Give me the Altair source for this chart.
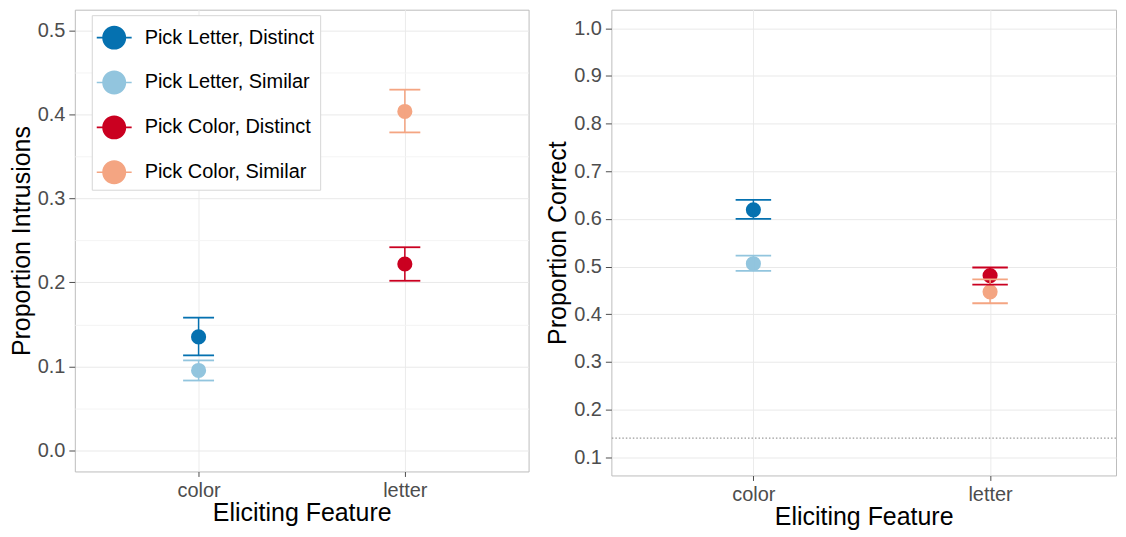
import altair as alt
import pandas as pd

FONT = "Liberation Sans"

categories = ["color", "letter"]
series = ["Pick Letter, Distinct", "Pick Letter, Similar", "Pick Color, Distinct", "Pick Color, Similar"]
series_feature = ["color", "color", "letter", "letter"]
palette = ["#0571b0", "#92c5de", "#ca0020", "#f4a582"]

intr_mean = [0.135, 0.095, 0.222, 0.404]
intr_lo = [0.113, 0.083, 0.202, 0.379]
intr_hi = [0.158, 0.107, 0.242, 0.430]

corr_mean = [0.619, 0.506, 0.481, 0.447]
corr_lo = [0.600, 0.491, 0.462, 0.423]
corr_hi = [0.640, 0.523, 0.498, 0.473]

chance_level = [0.14]

intr_ticks = [round(i * 0.05, 2) for i in range(0, 11)]
corr_ticks = [round(0.1 + i * 0.05, 2) for i in range(0, 19)]


def frame(mean, lo, hi):
    return pd.DataFrame({"series": series, "feature": series_feature,
                         "mean": mean, "lo": lo, "hi": hi})


MAJOR = "abs(datum.value*10 - round(datum.value*10)) < 0.01"
LEGEND_PATH = ("M-0.686,0A0.686,0.686,0,1,1,0.686,0A0.686,0.686,0,1,1,-0.686,0Z"
               "M-1,-0.045L-0.6,-0.045L-0.6,0.045L-1,0.045Z"
               "M0.6,-0.045L1,-0.045L1,0.045L0.6,0.045Z")

color_scale = alt.Scale(domain=series, range=palette)


def panel(df, ytitle, ydomain, yvalues, xdomain, width, height, show_legend, chance=None):
    base = alt.Chart(df).transform_calculate(
        idx="indexof(" + str(categories) + ", datum.feature) + 1"
    ).transform_calculate(
        xl="datum.idx - 0.075", xr="datum.idx + 0.075"
    )
    xaxis = alt.Axis(values=[1, 2], labelExpr="datum.value == 1 ? 'color' : 'letter'",
                     title="Eliciting Feature", tickSize=5, labelPadding=4, titlePadding=0,
                     gridColor="#ebebeb")
    yaxis = alt.Axis(values=yvalues, labelExpr=MAJOR + " ? format(datum.value, '.1f') : ''",
                     title=ytitle, tickSize=6, labelPadding=4, titlePadding=3, labelOverlap=False,
                     tickOpacity={"condition": {"test": MAJOR, "value": 1}, "value": 0},
                     gridColor={"condition": {"test": MAJOR, "value": "#e9e9e9"}, "value": "#f4f4f4"})
    xs = alt.Scale(domain=xdomain, nice=False, zero=False)
    ys = alt.Scale(domain=ydomain, nice=False, zero=False)
    if show_legend:
        leg = alt.Legend(title=None, orient="none", legendX=17, legendY=5.5,
                         symbolType=LEGEND_PATH, symbolSize=1225, symbolStrokeWidth=0,
                         symbolOpacity=1, labelFontSize=20, labelFont=FONT, labelColor="#000000",
                         labelOffset=13, rowPadding=15, padding=5, fillColor="white",
                         strokeColor="#d6d6d6", labelLimit=400)
    else:
        leg = None
    pts = base.mark_circle(size=230, opacity=1).encode(
        x=alt.X("idx:Q", scale=xs, axis=xaxis),
        y=alt.Y("mean:Q", scale=ys, axis=yaxis),
        color=alt.Color("series:N", scale=color_scale, legend=leg, sort=series),
    )
    vline = base.mark_rule(strokeWidth=1.5).encode(
        x="idx:Q", y="lo:Q", y2="hi:Q",
        color=alt.Color("series:N", scale=color_scale, legend=None),
    )
    cap_lo = base.mark_rule(strokeWidth=1.8).encode(
        x="xl:Q", x2="xr:Q", y="lo:Q",
        color=alt.Color("series:N", scale=color_scale, legend=None),
    )
    cap_hi = base.mark_rule(strokeWidth=1.8).encode(
        x="xl:Q", x2="xr:Q", y="hi:Q",
        color=alt.Color("series:N", scale=color_scale, legend=None),
    )
    layers = []
    if chance is not None:
        cdf = pd.DataFrame({"chance": chance})
        layers.append(alt.Chart(cdf).mark_rule(color="#9a9a9a", strokeWidth=1.2,
                                               strokeDash=[1.5, 2]).encode(y=alt.Y("chance:Q", scale=ys)))
    layers += [pts, vline, cap_lo, cap_hi]
    return alt.layer(*layers).properties(width=width, height=height)


left = panel(frame(intr_mean, intr_lo, intr_hi), "Proportion Intrusions",
             [-0.0255, 0.5254], intr_ticks, [0.4, 2.6], 455, 463, True)
right = panel(frame(corr_mean, corr_lo, corr_hi), "Proportion Correct",
              [0.0617, 1.039], corr_ticks, [0.4, 2.532], 506, 467, False, chance=chance_level)

chart = alt.hconcat(left, right, spacing=15).resolve_scale(
    color="independent"
).resolve_legend(color="independent").properties(padding=0).configure_view(
    stroke="#bdbdbd", strokeWidth=1
).configure_axis(
    labelFont=FONT, titleFont=FONT, labelFontSize=20, titleFontSize=25,
    labelColor="#4d4d4d", titleColor="#000000", titleFontWeight="normal",
    tickColor="#4d4d4d", domain=False
)

chart.save("out.html", embed_options={"renderer": "svg", "actions": False})
